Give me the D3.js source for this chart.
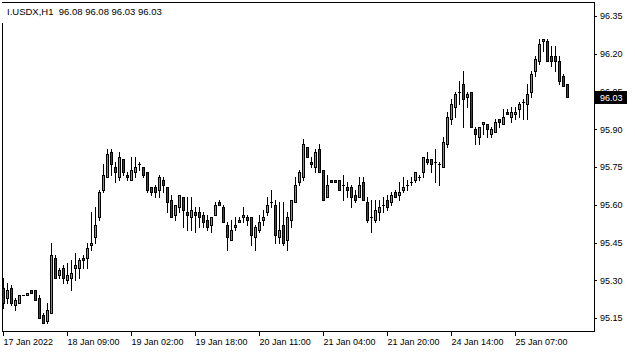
<!DOCTYPE html>
<html>
<head>
<meta charset="utf-8">
<script src="https://cdn.jsdelivr.net/npm/d3@7"></script>
<style>
  body { margin: 0; background: #fff; }
  text { font-family: "Liberation Sans", Arial, sans-serif; }
</style>
</head>
<body>
<div id="chart"></div>
<script>
// --------------------------------------
// Data  (I.USDX, H1 - one entry per bar)
// --------------------------------------

const opens = [
  95.27, 95.23, 95.27, 95.20, 95.21, 95.24, 95.24, 95.26, 95.26, 95.23,
  95.16, 95.14, 95.17, 95.39, 95.32, 95.35, 95.30, 95.31, 95.35, 95.35,
  95.39, 95.39, 95.44, 95.47, 95.55, 95.66, 95.71, 95.81, 95.75, 95.71,
  95.78, 95.72, 95.70, 95.73, 95.76, 95.75, 95.73, 95.67, 95.67, 95.66,
  95.70, 95.67, 95.62, 95.56, 95.59, 95.63, 95.57, 95.55, 95.57, 95.57,
  95.56, 95.54, 95.52, 95.56, 95.61, 95.59, 95.52, 95.46, 95.51, 95.53,
  95.55, 95.55, 95.55, 95.47, 95.50, 95.54, 95.57, 95.61, 95.60, 95.47,
  95.52, 95.46, 95.54, 95.61, 95.69, 95.71, 95.83, 95.77, 95.75, 95.82,
  95.74, 95.63, 95.70, 95.70, 95.70, 95.68, 95.67, 95.67, 95.64, 95.63,
  95.69, 95.61, 95.55, 95.54, 95.57, 95.60, 95.62, 95.61, 95.65, 95.64,
  95.66, 95.68, 95.69, 95.70, 95.71, 95.73, 95.78, 95.78, 95.77, 95.76,
  95.75, 95.84, 95.94, 95.99, 96.05, 96.08, 96.03, 96.05, 95.90, 95.87,
  95.92, 95.92, 95.88, 95.89, 95.94, 95.92, 95.97, 95.95, 95.96, 95.98,
  96.01, 96.00, 96.05, 96.13, 96.17, 96.25, 96.25, 96.19, 96.19, 96.17,
  96.11, 96.08
];
const highs = [
  95.31, 95.29, 95.28, 95.23, 95.24, 95.24, 95.25, 95.26, 95.26, 95.24,
  95.17, 95.21, 95.45, 95.40, 95.35, 95.36, 95.37, 95.38, 95.41, 95.39,
  95.40, 95.45, 95.57, 95.59, 95.66, 95.76, 95.82, 95.82, 95.77, 95.81,
  95.78, 95.73, 95.79, 95.79, 95.77, 95.75, 95.73, 95.67, 95.68, 95.72,
  95.71, 95.67, 95.64, 95.60, 95.64, 95.63, 95.63, 95.63, 95.59, 95.59,
  95.57, 95.56, 95.55, 95.61, 95.62, 95.60, 95.53, 95.54, 95.55, 95.55,
  95.59, 95.56, 95.55, 95.52, 95.56, 95.58, 95.63, 95.66, 95.62, 95.61,
  95.61, 95.57, 95.62, 95.71, 95.74, 95.86, 95.83, 95.79, 95.82, 95.84,
  95.74, 95.72, 95.70, 95.70, 95.70, 95.72, 95.69, 95.68, 95.66, 95.71,
  95.71, 95.63, 95.62, 95.62, 95.62, 95.63, 95.64, 95.65, 95.66, 95.69,
  95.71, 95.70, 95.71, 95.73, 95.72, 95.79, 95.81, 95.78, 95.82, 95.77,
  95.87, 95.97, 96.02, 96.05, 96.09, 96.13, 96.05, 96.05, 95.91, 95.91,
  95.93, 95.92, 95.91, 95.94, 95.94, 95.98, 95.98, 95.99, 95.99, 96.01,
  96.02, 96.08, 96.13, 96.19, 96.26, 96.26, 96.26, 96.23, 96.23, 96.19,
  96.12, 96.08
];
const lows = [
  95.19, 95.21, 95.20, 95.18, 95.21, 95.24, 95.24, 95.25, 95.22, 95.15,
  95.13, 95.13, 95.17, 95.31, 95.31, 95.29, 95.29, 95.26, 95.30, 95.31,
  95.35, 95.35, 95.42, 95.45, 95.54, 95.65, 95.71, 95.72, 95.69, 95.70,
  95.72, 95.70, 95.70, 95.71, 95.74, 95.71, 95.65, 95.64, 95.63, 95.63,
  95.65, 95.57, 95.55, 95.54, 95.57, 95.51, 95.50, 95.50, 95.49, 95.51,
  95.51, 95.50, 95.49, 95.56, 95.60, 95.53, 95.42, 95.46, 95.50, 95.53,
  95.53, 95.52, 95.44, 95.42, 95.49, 95.52, 95.56, 95.59, 95.45, 95.45,
  95.44, 95.42, 95.51, 95.61, 95.68, 95.70, 95.79, 95.75, 95.73, 95.73,
  95.62, 95.63, 95.69, 95.69, 95.66, 95.62, 95.63, 95.59, 95.61, 95.63,
  95.62, 95.53, 95.49, 95.53, 95.54, 95.57, 95.58, 95.60, 95.63, 95.62,
  95.65, 95.66, 95.68, 95.69, 95.70, 95.71, 95.76, 95.73, 95.69, 95.68,
  95.75, 95.83, 95.92, 95.95, 96.00, 95.91, 95.99, 95.91, 95.84, 95.84,
  95.88, 95.87, 95.87, 95.89, 95.91, 95.92, 95.96, 95.93, 95.94, 95.95,
  95.94, 95.94, 96.03, 96.11, 96.16, 96.21, 96.17, 96.15, 96.13, 96.08,
  96.07, 96.03
];
const closes = [
  95.21, 95.26, 95.21, 95.22, 95.24, 95.24, 95.25, 95.25, 95.22, 95.15,
  95.13, 95.18, 95.40, 95.31, 95.34, 95.31, 95.32, 95.33, 95.36, 95.38,
  95.38, 95.43, 95.45, 95.52, 95.65, 95.72, 95.80, 95.76, 95.73, 95.79,
  95.73, 95.71, 95.74, 95.75, 95.76, 95.72, 95.66, 95.65, 95.65, 95.71,
  95.68, 95.61, 95.55, 95.60, 95.64, 95.58, 95.56, 95.58, 95.56, 95.55,
  95.53, 95.51, 95.55, 95.60, 95.60, 95.53, 95.47, 95.50, 95.52, 95.54,
  95.56, 95.54, 95.48, 95.51, 95.53, 95.55, 95.60, 95.61, 95.48, 95.50,
  95.45, 95.55, 95.62, 95.68, 95.73, 95.84, 95.79, 95.76, 95.81, 95.73,
  95.62, 95.68, 95.69, 95.69, 95.66, 95.68, 95.66, 95.63, 95.62, 95.68,
  95.62, 95.54, 95.55, 95.58, 95.59, 95.60, 95.59, 95.64, 95.63, 95.65,
  95.67, 95.68, 95.69, 95.73, 95.71, 95.79, 95.77, 95.76, 95.77, 95.76,
  95.85, 95.95, 96.00, 96.04, 96.05, 96.02, 96.04, 95.91, 95.88, 95.91,
  95.93, 95.90, 95.90, 95.93, 95.93, 95.95, 95.96, 95.97, 95.97, 96.00,
  96.01, 96.04, 96.12, 96.18, 96.24, 96.26, 96.17, 96.17, 96.17, 96.09,
  96.07, 96.03
];

const timeTickBars   = [0, 16, 32, 48, 64, 80, 96, 112, 128];
const timeTickLabels = ["17 Jan 2022", "18 Jan 09:00", "19 Jan 02:00", "19 Jan 18:00",
                        "20 Jan 11:00", "21 Jan 04:00", "21 Jan 20:00", "24 Jan 14:00", "25 Jan 07:00"];
const priceTicks = [95.15, 95.30, 95.45, 95.60, 95.75, 95.90, 96.05, 96.20, 96.35];
const lastPrice = 96.03;
const title = "I.USDX,H1  96.08 96.08 96.03 96.03";

const bars = opens.map((o, i) => ({ i, o, h: highs[i], l: lows[i], c: closes[i] }));

// --------------------------------------
//  Canvas
// --------------------------------------

const width = 635, height = 352;
const frame = { left: 2, top: 2, right: 594, bottom: 331 };

const svg = d3.select("#chart")
  .append("svg")
    .attr("width", width)
    .attr("height", height)
    .style("display", "block")
    .attr("shape-rendering", "crispEdges");

// --------------------------------------
// Scales
// --------------------------------------

const x = d3.scaleLinear([0, bars.length - 1], [3, 3 + 4 * (bars.length - 1)]);
const y = d3.scaleLinear([95.15, 96.35], [318, 16]);

const bull = "#2fc82f", bear = "#e00000";

// --------------------------------------
// Candles
// --------------------------------------

const candles = svg.append("g")
  .selectAll("g")
  .data(bars)
  .join("g");

// wicks
candles.append("rect")
    .attr("x", d => Math.round(x(d.i)))
    .attr("y", d => Math.round(y(d.h)))
    .attr("width", 1)
    .attr("height", d => Math.round(y(d.l)) - Math.round(y(d.h)) + 1)
    .attr("fill", "#000");

// body outline
candles.append("rect")
    .attr("x", d => Math.round(x(d.i)) - 1)
    .attr("y", d => Math.round(y(Math.max(d.o, d.c))))
    .attr("width", 3)
    .attr("height", d => Math.round(y(Math.min(d.o, d.c))) - Math.round(y(Math.max(d.o, d.c))) + 1)
    .attr("fill", "#000");

// body fill
candles.filter(d => Math.round(y(Math.min(d.o, d.c))) - Math.round(y(Math.max(d.o, d.c))) >= 2)
  .append("rect")
    .attr("x", d => Math.round(x(d.i)))
    .attr("y", d => Math.round(y(Math.max(d.o, d.c))) + 1)
    .attr("width", 1)
    .attr("height", d => Math.round(y(Math.min(d.o, d.c))) - Math.round(y(Math.max(d.o, d.c))) - 1)
    .attr("fill", d => d.c >= d.o ? bull : bear);

// --------------------------------------
//  Frame + axes
// --------------------------------------

svg.append("rect")
    .attr("x", frame.left + 0.5)
    .attr("y", frame.top + 0.5)
    .attr("width", frame.right - frame.left)
    .attr("height", frame.bottom - frame.top)
    .attr("fill", "none")
    .attr("stroke", "#000");

svg.append("g")
    .attr("transform", `translate(${frame.right},0)`)
    .call(d3.axisRight(y).tickValues(priceTicks).tickSize(3).tickPadding(3).tickFormat(d3.format(".2f")))
    .call(g => g.select(".domain").remove())
    .call(g => g.selectAll("text").attr("font-size", 9).attr("font-family", null).attr("fill", "#000"));

svg.append("g")
    .attr("transform", `translate(0,${frame.bottom + 1})`)
    .call(d3.axisBottom(x).tickValues(timeTickBars).tickSize(4).tickPadding(3)
      .tickFormat((d, k) => timeTickLabels[k]))
    .call(g => g.select(".domain").remove())
    .call(g => g.selectAll("text")
      .attr("text-anchor", "start")
      .attr("x", 0)
      .attr("font-size", 9)
      .attr("font-family", null)
      .attr("fill", "#000"));

// last price marker
const lp = svg.append("g")
    .attr("transform", `translate(${frame.right + 1},${Math.round(y(lastPrice))})`);
lp.append("rect")
    .attr("x", 0).attr("y", -6)
    .attr("width", 32).attr("height", 13)
    .attr("fill", "#000");
lp.append("text")
    .attr("x", 5).attr("y", 0.5)
    .attr("dy", "0.35em")
    .attr("font-size", 9)
    .attr("fill", "#fff")
    .text(d3.format(".2f")(lastPrice));

// --------------------------------------
//  Title
// --------------------------------------

const t = svg.append("text")
    .attr("x", 7)
    .attr("y", 12)
    .attr("dy", "0.35em")
    .attr("font-size", 9.5)
    .style("white-space", "pre")
    .text(title);

const bb = t.node().getBBox();
svg.insert("rect", () => t.node())
    .attr("x", frame.left)
    .attr("y", frame.top + 1)
    .attr("width", bb.x + bb.width + 2 - frame.left)
    .attr("height", 20)
    .attr("fill", "#fff");
</script>
</body>
</html>
